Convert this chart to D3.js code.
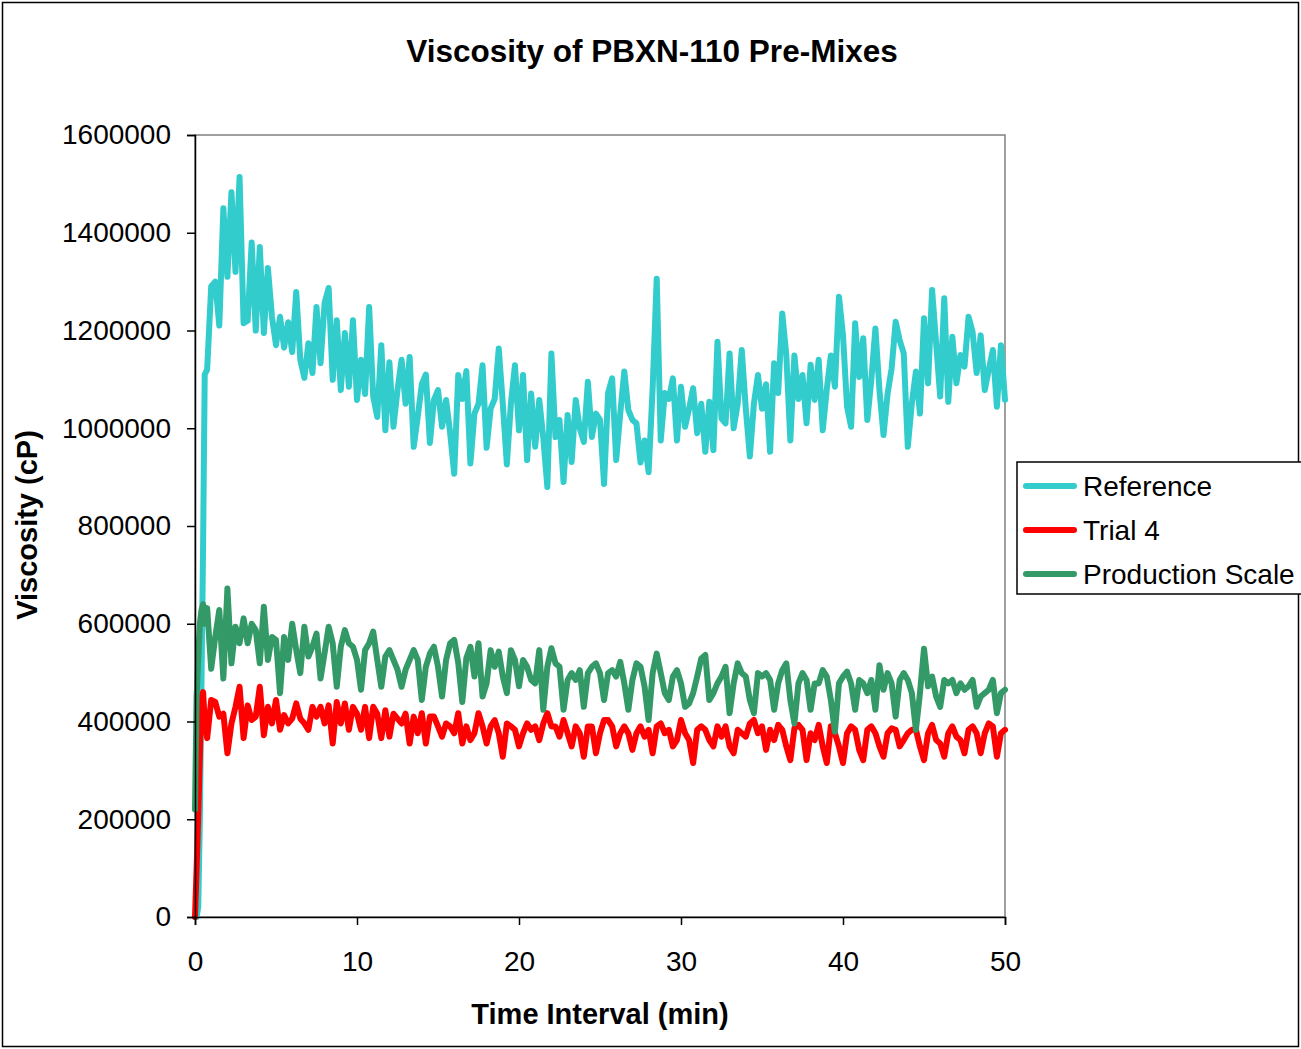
<!DOCTYPE html>
<html>
<head>
<meta charset="utf-8">
<script src="https://cdn.jsdelivr.net/npm/d3@7"></script>
<style>
  html, body { margin: 0; padding: 0; background: #fff; }
  svg text { font-family: Arial, "Liberation Sans", sans-serif; fill: #000; }
</style>
</head>
<body>
<div id="chart"></div>
<script>
// Readings, in thousands of cP.
// First few samples are the start-up ramp (leadTimes), then a regular grid every 0.25 min from 0.75 to 50.
const leadTimes = [0, 0.1, 0.2, 0.3, 0.4, 0.5, 0.6];
const gridStart = 0.75;
const gridStep = 0.25;

const referenceLead = [0, 0, 20, 200, 480, 760, 1110];
const referenceK = [
  1120, 1290, 1300, 1210, 1450, 1310, 1483, 1320, 1514, 1215,
  1220, 1380, 1200, 1371, 1195, 1328, 1228, 1170, 1228, 1165,
  1217, 1156, 1279, 1140, 1103, 1174, 1113, 1248, 1133, 1256,
  1287, 1099, 1221, 1078, 1195, 1085, 1221, 1058, 1140, 1070,
  1248, 1065, 1023, 1170, 996, 1135, 1003, 1078, 1140, 1050,
  1146, 962, 1024, 1090, 1110, 970, 1058, 1078, 1003, 1058,
  990, 907, 1109, 1060, 1117, 928, 1030, 1050, 1129, 960,
  1040, 1060, 1163, 1050, 926, 1050, 1129, 996, 1109, 935,
  1071, 962, 1058, 980, 880, 1153, 982, 1017, 890, 1027,
  931, 1058, 1000, 972, 1095, 982, 1030, 1017, 886, 1072,
  1102, 935, 1030, 1116, 1037, 1017, 1010, 930, 975, 910,
  1082, 1306, 975, 1072, 1060, 1102, 975, 1085, 1003, 1040,
  1082, 990, 1050, 952, 1054, 955, 1177, 1020, 1010, 1153,
  1000, 1050, 1160, 1040, 942, 1050, 1109, 1040, 1090, 952,
  1133, 1072, 1235, 1150, 975, 1149, 1060, 1109, 1010, 1130,
  1058, 1140, 996, 1080, 1149, 1085, 1269, 1190, 1044, 1003,
  1215, 1105, 1184, 1017, 1100, 1204, 1078, 986, 1070, 1122,
  1218, 1180, 1153, 962, 1051, 1116, 1030, 1225, 1092, 1283,
  1173, 1065, 1266, 1054, 1187, 1092, 1150, 1126, 1228, 1197,
  1113, 1190, 1078, 1120, 1160, 1044, 1170, 1058
];

const trial4Lead = [0, 100, 210, 330, 450, 460, 400];
const trial4K = [
  366, 444, 440, 410, 416, 335, 396, 430, 471, 366,
  433, 403, 410, 471, 372, 430, 396, 444, 383, 413,
  396, 406, 437, 406, 396, 383, 430, 410, 430, 396,
  433, 355, 440, 396, 437, 383, 430, 416, 383, 430,
  366, 430, 416, 366, 423, 369, 416, 406, 396, 416,
  355, 410, 376, 417, 355, 410, 410, 390, 369, 396,
  390, 376, 417, 355, 390, 362, 376, 417, 390, 355,
  390, 403, 376, 328, 396, 390, 383, 349, 376, 396,
  383, 390, 362, 396, 417, 390, 390, 369, 403, 376,
  349, 390, 376, 328, 390, 390, 335, 376, 403, 403,
  390, 349, 376, 390, 376, 342, 376, 390, 369, 383,
  335, 390, 396, 376, 383, 349, 362, 403, 376, 362,
  315, 383, 390, 383, 362, 349, 390, 369, 390, 349,
  335, 383, 376, 369, 396, 403, 376, 390, 342, 383,
  362, 393, 383, 349, 321, 386, 393, 383, 321, 376,
  362, 393, 349, 315, 390, 376, 349, 315, 376, 390,
  383, 342, 321, 383, 390, 376, 349, 328, 376, 386,
  383, 349, 362, 376, 383, 383, 349, 321, 376, 393,
  362, 355, 328, 376, 390, 369, 362, 335, 383, 390,
  376, 335, 376, 396, 390, 328, 376, 383
];

const productionLead = [220, 450, 530, 600, 628, 640, 600];
const productionK = [
  632, 508, 573, 628, 488, 672, 519, 594, 560, 611,
  560, 600, 587, 519, 635, 526, 573, 567, 458, 573,
  526, 600, 546, 499, 594, 533, 553, 580, 488, 540,
  594, 560, 471, 553, 587, 560, 553, 526, 465, 546,
  560, 584, 526, 471, 533, 546, 526, 506, 471, 506,
  526, 546, 526, 444, 512, 539, 553, 512, 451, 526,
  560, 567, 520, 440, 530, 553, 492, 560, 451, 478,
  546, 512, 543, 492, 458, 546, 526, 472, 526, 512,
  485, 478, 546, 424, 512, 550, 519, 512, 424, 485,
  499, 485, 505, 430, 499, 512, 519, 499, 444, 499,
  505, 492, 522, 478, 424, 485, 519, 512, 472, 403,
  499, 539, 499, 458, 444, 492, 505, 478, 430, 437,
  458, 492, 529, 536, 444, 458, 478, 492, 512, 417,
  478, 519, 499, 492, 444, 417, 499, 492, 499, 485,
  424, 478, 505, 519, 444, 396, 478, 499, 485, 424,
  478, 478, 505, 492, 444, 379, 478, 492, 502, 478,
  424, 485, 478, 458, 485, 424, 515, 465, 499, 478,
  410, 485, 499, 485, 458, 383, 458, 549, 472, 492,
  451, 430, 485, 478, 485, 458, 478, 465, 472, 485,
  430, 451, 458, 465, 485, 417, 458, 465
];

const seriesNames = ["Reference", "Trial 4", "Production Scale"];
const seriesColors = ["#33CCCC", "#FF0000", "#339966"];
const yTicks = [0, 200000, 400000, 600000, 800000, 1000000, 1200000, 1400000, 1600000];
const xTicks = [0, 10, 20, 30, 40, 50];

function buildSeries(lead, grid) {
  const pts = lead.map((v, i) => ({ t: leadTimes[i], v: v * 1000 }));
  grid.forEach((v, i) => pts.push({ t: gridStart + i * gridStep, v: v * 1000 }));
  return pts;
}

const series = [
  buildSeries(referenceLead, referenceK),
  buildSeries(trial4Lead, trial4K),
  buildSeries(productionLead, productionK),
];

const W = 1301, H = 1049;
const plot = { left: 195, right: 1005, top: 135, bottom: 917 };

const svg = d3.select("#chart").append("svg").attr("width", W).attr("height", H);

// outer chart border
svg.append("rect")
  .attr("x", 2.5).attr("y", 2.5)
  .attr("width", 1296).attr("height", 1044)
  .attr("fill", "#fff").attr("stroke", "#000").attr("stroke-width", 1.5);

const x = d3.scaleLinear().domain([0, 50]).range([plot.left, plot.right]);
const y = d3.scaleLinear().domain([0, 1600000]).range([plot.bottom, plot.top]);

// plot area border
svg.append("rect")
  .attr("x", plot.left).attr("y", plot.top)
  .attr("width", plot.right - plot.left).attr("height", plot.bottom - plot.top)
  .attr("fill", "none").attr("stroke", "#808080").attr("stroke-width", 1.5);

// Lines
const line = d3.line().x((d) => x(d.t)).y((d) => y(d.v));

svg.append("g")
  .selectAll("path")
  .data(series)
  .enter()
  .append("path")
  .attr("d", line)
  .attr("fill", "none")
  .attr("stroke", (d, i) => seriesColors[i])
  .attr("stroke-width", 6)
  .attr("stroke-linejoin", "round")
  .attr("stroke-linecap", "round");

// Y-axis
const yAxis = svg.append("g")
  .attr("transform", `translate(${plot.left},0)`)
  .call(d3.axisLeft(y).tickValues(yTicks).tickFormat(d3.format("d")).tickSize(8).tickPadding(16));
yAxis.selectAll("text").style("font-size", "28px");

// X-axis
const xAxis = svg.append("g")
  .attr("transform", `translate(0,${plot.bottom})`)
  .call(d3.axisBottom(x).tickValues(xTicks).tickFormat(d3.format("d")).tickSize(8).tickPadding(26));
xAxis.selectAll("text").style("font-size", "28px");

[yAxis, xAxis].forEach((a) => {
  a.select(".domain").attr("stroke", "#000").attr("stroke-width", 1.5);
  a.selectAll(".tick line").attr("stroke", "#000").attr("stroke-width", 1.5);
});

// Title and axis labels
svg.append("text")
  .attr("x", 652).attr("y", 62)
  .attr("text-anchor", "middle")
  .style("font-size", "31.5px").style("font-weight", "bold")
  .text("Viscosity of PBXN-110 Pre-Mixes");

svg.append("text")
  .attr("x", 600).attr("y", 1024)
  .attr("text-anchor", "middle")
  .style("font-size", "29px").style("font-weight", "bold")
  .text("Time Interval (min)");

svg.append("text")
  .attr("transform", "translate(37,525) rotate(-90)")
  .attr("text-anchor", "middle")
  .style("font-size", "29px").style("font-weight", "bold")
  .text("Viscosity (cP)");

// Legend
const legend = svg.append("g").attr("transform", "translate(1017,462)");
legend.append("rect")
  .attr("width", 300).attr("height", 132)
  .attr("fill", "#fff").attr("stroke", "#000").attr("stroke-width", 1.5);

const items = legend.selectAll(".item")
  .data(seriesNames)
  .enter()
  .append("g")
  .attr("class", "item")
  .attr("transform", (d, i) => `translate(0,${24 + i * 44})`);

items.append("line")
  .attr("x1", 9).attr("x2", 57)
  .attr("stroke", (d, i) => seriesColors[i])
  .attr("stroke-width", 6)
  .attr("stroke-linecap", "round");

items.append("text")
  .attr("x", 66).attr("y", 10)
  .style("font-size", "28px")
  .text((d) => d);
</script>
</body>
</html>
